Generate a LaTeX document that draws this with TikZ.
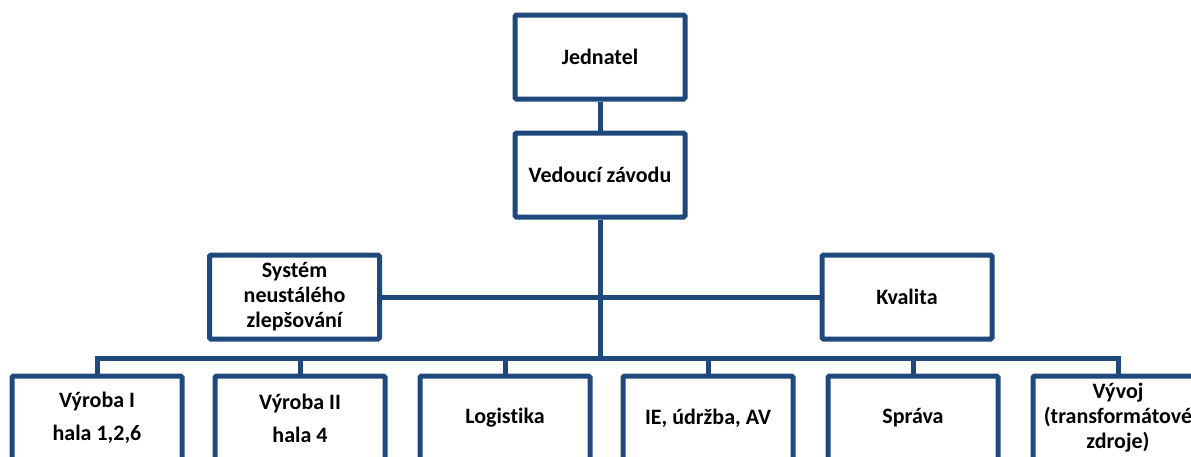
\documentclass[tikz,border=0pt]{standalone}
\usepackage{fontspec}
\setmainfont[Ligatures=NoCommon]{Carlito}
\definecolor{orgblue}{HTML}{1F497D}
\begin{document}
\begin{tikzpicture}[x=1pt,y=-1pt,
  orgbox/.style={draw=orgblue, line width=5pt, rounded corners=1.5pt, fill=white,
    minimum width=170pt, minimum height=84pt, inner sep=2pt, align=center,
    font=\fontsize{22}{25}\selectfont\bfseries},
  link/.style={draw=orgblue, line width=5pt}]
\useasboundingbox (0,0) rectangle (1191,456);
\clip (0,0) rectangle (1191,456);
\coordinate (busL) at (97,358);
\coordinate (busR) at (1118,358);
\coordinate (busM) at (600,358);
\node[orgbox] (jed) at (600,57) {Jednatel};
\node[orgbox] (ved) at (600,175) {Vedoucí závodu};
\node[orgbox] (sys) at (294.5,297) {Systém\\neustálého\\zlepšování};
\node[orgbox] (kva) at (907,297) {Kvalita};
\node[orgbox] (v1) at (97,418) {Výroba I\\[8pt]hala 1,2,6};
\node[orgbox] (v2) at (300,418) {Výroba II\\[8pt]hala 4};
\node[orgbox] (log) at (505,418) {Logistika};
\node[orgbox] (ie) at (708,418) {IE, údržba, AV};
\node[orgbox] (spr) at (913,418) {Správa};
\node[orgbox] (vyv) at (1118,418) {Vývoj\\(transformátové\\zdroje)};
\draw[link] (jed.south) -- (ved.north);
\draw[link] (ved.south) -- (busM);
\draw[link] (sys.east) -- (kva.west);
\draw[link, line cap=rect] (v1.north) -- (busL) -- (busR) -- (vyv.north);
\draw[link] (v2.north) -- (v2.north |- busM);
\draw[link] (log.north) -- (log.north |- busM);
\draw[link] (ie.north) -- (ie.north |- busM);
\draw[link] (spr.north) -- (spr.north |- busM);
\end{tikzpicture}
\end{document}
